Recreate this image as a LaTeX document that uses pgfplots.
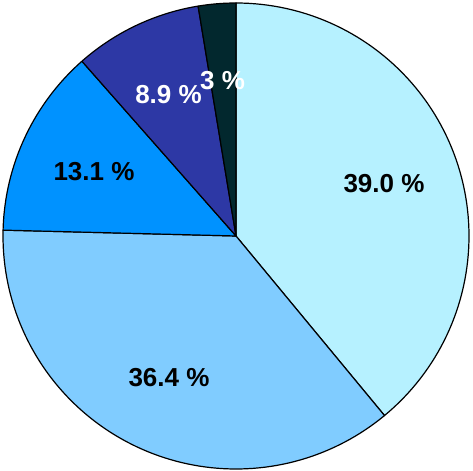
\documentclass[border=0pt]{standalone}
\usepackage{pgfplots}
\usepackage{pgfplotstable}
\pgfplotsset{compat=1.18}
\usepackage{fontspec}
\setmainfont{Liberation Sans}
\definecolor{sA}{RGB}{182,241,255}
\definecolor{sB}{RGB}{128,204,255}
\definecolor{sC}{RGB}{0,146,255}
\definecolor{sD}{RGB}{45,56,165}
\definecolor{sE}{RGB}{2,40,46}
\pgfplotstableread{
value col
39.0 sA
36.4 sB
13.1 sC
8.9 sD
2.6 sE
}\piedata
\begin{document}
\begin{tikzpicture}
\begin{axis}[
  scale only axis, width=354.75pt, height=352.5pt,
  xmin=0, xmax=473, ymin=0, ymax=470,
  hide axis, clip=false,
]
\addplot[draw=none, forget plot] coordinates {(0,0) (473,470)};
\def\cum{0}
\pgfplotsforeachungrouped \i in {0,...,4}{%
  \pgfplotstablegetelem{\i}{value}\of\piedata \let\v\pgfplotsretval
  \pgfplotstablegetelem{\i}{col}\of\piedata \let\c\pgfplotsretval
  \pgfmathsetmacro\a{90-3.6*\cum}%
  \pgfmathsetmacro\b{90-3.6*(\cum+\v)}%
  \pgfmathsetmacro\cum{\cum+\v}%
  \edef\temp{\noexpand\addplot[fill=\c, draw=black, line width=0.9pt, line join=round, domain=\b:\a, samples=90] ({236+233*cos(x)},{234+233*sin(x)}) -- (axis cs:236,234) -- cycle;}%
  \temp
}
\node[font=\fontsize{19.5}{22}\selectfont\bfseries, text=black] at (axis cs:384,286) {39.0 \%};
\node[font=\fontsize{19.5}{22}\selectfont\bfseries, text=black] at (axis cs:169,92) {36.4 \%};
\node[font=\fontsize{19.5}{22}\selectfont\bfseries, text=black] at (axis cs:94,298) {13.1 \%};
\node[font=\fontsize{19.5}{22}\selectfont\bfseries, text=white] at (axis cs:168.5,375) {8.9 \%};
\node[font=\fontsize{19.5}{22}\selectfont\bfseries, text=white] at (axis cs:222.5,389) {3 \%};
\end{axis}
\end{tikzpicture}
\end{document}
